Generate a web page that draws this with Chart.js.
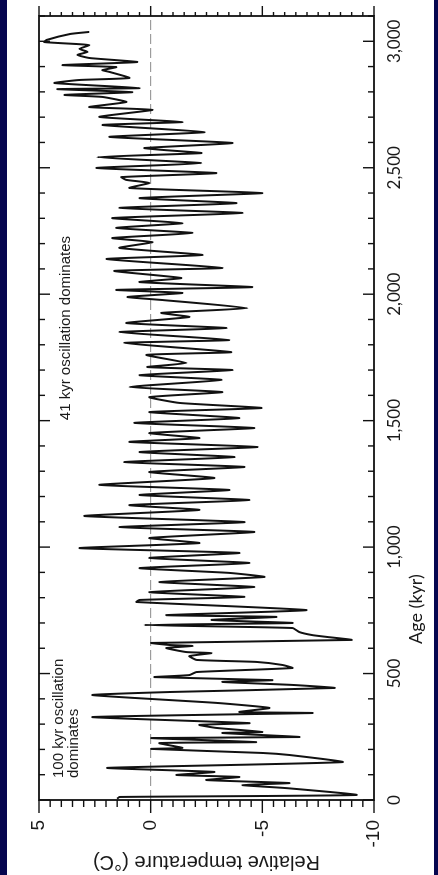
<!DOCTYPE html>
<html>
<head>
<meta charset="utf-8">
<script src="https://cdn.jsdelivr.net/npm/chart.js@4.4.1/dist/chart.umd.min.js"></script>
<style>
  html, body { margin: 0; padding: 0; width: 438px; height: 875px; overflow: hidden; background: #06064f; }
  #paper { position: absolute; left: 7px; top: 0; width: 427px; height: 875px; background: #fff; }
  /* the figure is drawn landscape and turned a quarter turn to the left */
  #wrap { position: absolute; left: 0; top: 0; width: 875px; height: 438px;
          transform-origin: 0 0; transform: translate(0, 875px) rotate(-90deg); }
</style>
</head>
<body>
<div id="paper"></div>
<div id="wrap"><canvas id="c" width="875" height="438"></canvas></div>
<script>
// ages in kyr (old -> young) and relative temperature in deg C
var ages = [3037, 3029, 3005, 2997, 2989, 2985, 2970, 2958, 2946, 2934, 2918, 2906, 2898, 2886, 2879,
  2855, 2847, 2835, 2815, 2811, 2799, 2788, 2780, 2760, 2740, 2729, 2701, 2681, 2669, 2641,
  2622, 2598, 2578, 2570, 2558, 2542, 2518, 2499, 2479, 2463, 2452, 2440, 2420, 2400, 2380,
  2360, 2341, 2321, 2301, 2281, 2262, 2242, 2222, 2206, 2183, 2155, 2139, 2104, 2092, 2064,
  2048, 2028, 2017, 2005, 1989, 1977, 1945, 1926, 1910, 1886, 1866, 1850, 1819, 1807, 1771,
  1760, 1728, 1712, 1700, 1680, 1661, 1633, 1613, 1593,
  1570, 1550, 1534, 1510, 1491, 1471, 1451, 1431, 1416, 1396, 1376, 1356, 1336, 1317, 1297,
  1273, 1246, 1226, 1206, 1186, 1166, 1147, 1123, 1099, 1079, 1060, 1036, 1016, 996, 977,
  957, 937, 917, 898, 882, 862, 842, 822, 803, 791,
  783, 751, 731, 724, 712, 700, 692, 680, 664, 652, 645, 633, 621, 613, 609, 601, 585, 581,
  569, 554, 546, 534, 522, 506, 494, 486, 474, 467, 455, 443, 427, 415, 384, 364, 348, 344,
  328, 304, 297, 285, 269, 265, 249, 245, 229, 225, 206, 202, 186, 178, 150, 127, 111, 99,
  91, 79, 67, 59, 47, 20, 12, 5];
var temps = [2.75, 3.6, 4.67, 4.76, 3.28, 2.75, 3.19, 2.83, 3.28, 2.75, 0.6, 3.95, 1.54, 2.16, 1.85,
  0.95, 3.19, 4.31, 0.5, 4.18, 0.82, 3.86, 2.16, 1.09, 2.75, -0.08, 2.3, -1.42, 2.16, -2.41,
  1.85, -3.66, 0.28, -0.61, -2.27, 2.39, -2.27, 2.43, -2.94, 1.31, 1.09, 0.06, 0.95, -5.0, 0.5,
  -3.84, 1.4, -4.11, 1.72, -1.42, 1.54, -1.87, 1.72, -0.08, 1.4, -2.32, 1.98, -3.21, 1.63, -1.37,
  0.5, -4.55, 1.54, -1.42, 1.04, -0.52, -4.33, -0.48, -1.73, 1.09, -3.39, 1.4, -3.52, 1.18, -3.61,
  0.19, -1.6, 0.15, -3.66, 0.5, -3.17, 0.95, -3.21, 0.06,
  -1.29, -4.96, 0.06, -3.97, 0.73, -4.64, 0.06, -2.18, 0.95, -4.78, 0.5, -3.75, 1.18, -4.2, 0.06,
  -2.85, 2.3, -3.52, 0.5, -4.42, 0.95, -2.18, 2.97, -4.2, 1.4, -4.64, 0.06, -2.18, 3.19, -3.97,
  0.06, -4.42, 0.5, -3.52, -5.09, -0.39, -4.64, 0.06, -4.2, 0.5,
  0.64, -6.98, -0.7, -5.63, -2.72, -6.35, 0.28, -6.35, -6.66, -7.24, -7.87, -8.99, -0.03, -0.84, -1.87, -0.7, -1.6, -2.72,
  -1.73, -2.05, -4.73, -5.9, -6.35, -2.05, -1.73, -0.17, -5.45, -3.21, -6.35, -8.23, -0.84, 2.61, -2.94, -5.32, -3.97, -7.24,
  2.61, -4.42, -2.18, -2.94, -5.0, -3.21, -6.66, -0.03, -4.73, -0.39, -1.42, -0.03, -5.0, -6.21, -8.59, 1.94, -2.85, -1.15,
  -3.97, -2.49, -6.21, -4.11, -6.08, -9.21, 1.4, 1.5];

var ageMin = 0, ageMax = 3100;
var tempMin = -10, tempMax = 5;
var ageLabels = [0, 500, 1000, 1500, 2000, 2500, 3000];
var tempLabels = [-10, -5, 0, 5];

var points = ages.map(function(a, i) { return { x: a, y: temps[i] }; });

function line(ctx, x1, y1, x2, y2) {
  ctx.beginPath(); ctx.moveTo(x1, y1); ctx.lineTo(x2, y2); ctx.stroke();
}

var decor = {
  id: 'decor',
  afterDatasetsDraw: function(chart) {
    var ctx = chart.ctx, a = chart.chartArea, x = chart.scales.x, y = chart.scales.y;
    ctx.save();
    ctx.strokeStyle = '#111';
    ctx.lineWidth = 1.8;
    ctx.strokeRect(a.left, a.top, a.right - a.left, a.bottom - a.top);
    ctx.lineWidth = 1.4;
    // age ticks, pointing in
    for (var v = ageMin; v <= ageMax; v += 100) {
      var px = x.getPixelForValue(v), len = v % 500 === 0 ? 11 : 6;
      line(ctx, px, a.bottom, px, a.bottom - len);
      line(ctx, px, a.top, px, a.top + len);
    }
    // temperature ticks, pointing out
    for (var t = tempMin; t <= tempMax; t += 0.5) {
      var py = y.getPixelForValue(t), major = t % 5 === 0;
      line(ctx, a.left, py, a.left - (major ? 13 : 7), py);
      line(ctx, a.right, py, a.right + (major ? 10 : 4), py);
    }
    // text
    ctx.fillStyle = '#1a1a1a';
    ctx.font = '18px Lato, sans-serif';
    ctx.textAlign = 'center';
    ctx.textBaseline = 'middle';
    ctx.fillText('Age (kyr)', x.getPixelForValue(755), a.bottom + 42);
    ctx.font = '15px "Liberation Sans", Arial, sans-serif';
    ctx.textBaseline = 'alphabetic';
    ctx.fillText('41 kyr oscillation dominates', x.getPixelForValue(1866), a.top + 31);
    ctx.textAlign = 'left';
    ctx.fillText('100 kyr oscillation', x.getPixelForValue(87), a.top + 24);
    ctx.fillText('dominates', x.getPixelForValue(87), a.top + 39);
    ctx.restore();
  }
};

var chart = new Chart(document.getElementById('c'), {
  type: 'line',
  data: {
    datasets: [{
      data: points,
      borderColor: '#111',
      borderWidth: 2,
      pointRadius: 0,
      tension: 0.15
    }, {
      // zero reference line
      data: [{ x: ageMin, y: 0 }, { x: ageMax, y: 0 }],
      borderColor: '#8a8a8a',
      borderWidth: 1,
      borderDash: [10, 4],
      pointRadius: 0
    }]
  },
  options: {
    responsive: false,
    animation: false,
    devicePixelRatio: 1,
    layout: { padding: { top: 39, right: 16, left: 0, bottom: 0 } },
    plugins: { legend: { display: false }, tooltip: { enabled: false } },
    scales: {
      x: {
        type: 'linear', min: ageMin, max: ageMax,
        grid: { display: false, drawTicks: false },
        border: { display: false },
        ticks: {
          stepSize: 100, autoSkip: false, maxRotation: 0, padding: 10,
          color: '#1a1a1a', font: { family: 'Lato', size: 17 },
          callback: function(v) { return ageLabels.indexOf(v) >= 0 ? v.toLocaleString('en-US') : ''; }
        },
        afterFit: function(s) { s.height = 64; }
      },
      y: {
        type: 'linear', min: tempMin, max: tempMax,
        grid: { display: false, drawTicks: false },
        border: { display: false },
        ticks: {
          stepSize: 0.5, autoSkip: false, padding: 20,
          color: '#1a1a1a', font: { family: 'Liberation Sans', size: 19 },
          callback: function(v) { return tempLabels.indexOf(v) >= 0 ? String(v) : ''; }
        },
        title: {
          display: true, text: 'Relative temperature (\u00B0C)',
          color: '#1a1a1a', font: { family: 'Liberation Sans', size: 20 },
          padding: { top: 1, bottom: 0 }
        },
        afterFit: function(s) { s.width = 75; }
      }
    }
  },
  plugins: [decor]
});
</script>
</body>
</html>
